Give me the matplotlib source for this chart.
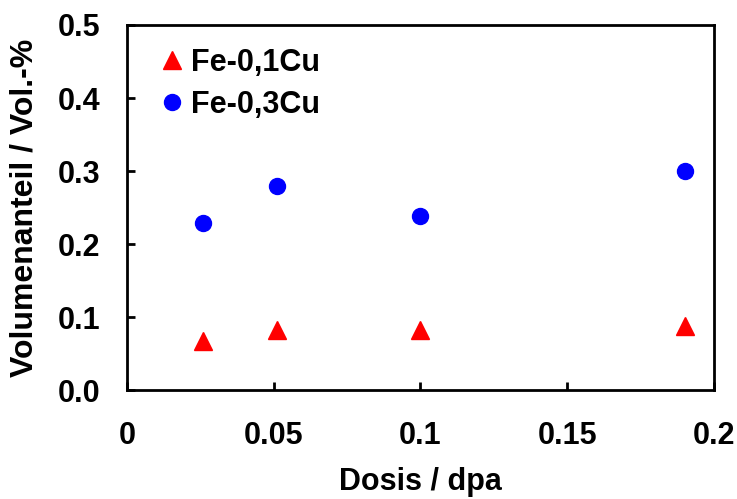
import matplotlib
matplotlib.use('Agg')
import matplotlib.pyplot as plt

plt.rcParams['font.family'] = ['Liberation Sans', 'DejaVu Sans']
plt.rcParams['font.weight'] = 'bold'

# Dose (dpa) and volume fraction (vol.-%)
DOSE = [0.026, 0.051, 0.1, 0.19]
FE_01CU = [0.067, 0.082, 0.082, 0.088]
FE_03CU = [0.229, 0.280, 0.238, 0.300]

X_TICKS = [0, 0.05, 0.1, 0.15, 0.2]
X_LABELS = ['0', '0.05', '0.1', '0.15', '0.2']
Y_TICKS = [0.0, 0.1, 0.2, 0.3, 0.4, 0.5]
Y_LABELS = ['0.0', '0.1', '0.2', '0.3', '0.4', '0.5']


def run():
    fig = plt.figure(figsize=(7.37, 4.99), dpi=100)
    ax = fig.add_axes([0.1723, 0.2184, 0.7965, 0.7315])

    ax.plot(DOSE, FE_01CU, linestyle='none', marker='^', markersize=12.5,
            color='#ff0000', label='Fe-0,1Cu')
    ax.plot(DOSE, FE_03CU, linestyle='none', marker='o', markersize=11.5,
            color='#0000ff', label='Fe-0,3Cu')

    ax.set_xlim(0, 0.2)
    ax.set_ylim(0, 0.5)
    ax.set_xticks(X_TICKS, X_LABELS)
    ax.set_yticks(Y_TICKS, Y_LABELS)
    ax.tick_params(direction='in', length=6, width=2, labelsize=22)
    ax.tick_params(axis='x', pad=22)
    ax.tick_params(axis='y', pad=19)

    for side in ['top', 'right', 'bottom', 'left']:
        ax.spines[side].set_linewidth(2)

    ax.set_xlabel('Dosis / dpa', fontsize=22, fontweight='bold', labelpad=12)
    ax.set_ylabel('Volumenanteil / Vol.-%', fontsize=23, fontweight='bold', labelpad=13)

    ax.legend(loc='upper left', bbox_to_anchor=(0.05, 0.938), frameon=False,
              fontsize=22, handlelength=1.0, handletextpad=0.15, borderpad=0,
              borderaxespad=0, labelspacing=0.39)

    fig.savefig('out.png', dpi=100)


if __name__ == '__main__':
    run()
